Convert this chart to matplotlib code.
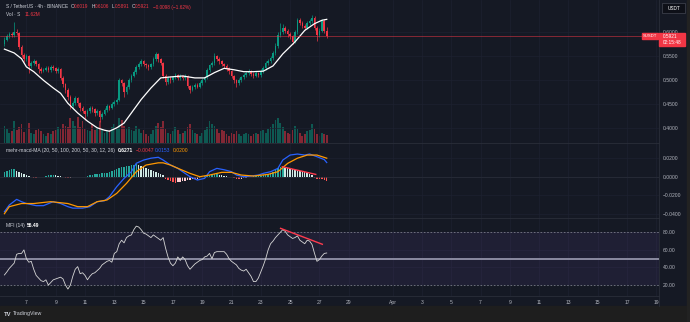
import numpy as np
import matplotlib.pyplot as plt
from matplotlib.patches import Rectangle

plt.rcParams['font.family'] = ['Liberation Sans', 'DejaVu Sans']

# 4h candles, S/USDT, starting Mar 5 12:00
first_open = 0.575
close = [0.585, 0.592, 0.596, 0.594, 0.600, 0.598, 0.570, 0.552, 0.545, 0.550,
         0.530, 0.536, 0.540, 0.535, 0.524, 0.520, 0.522, 0.526, 0.521, 0.528,
         0.525, 0.519, 0.523, 0.505, 0.492, 0.480, 0.466, 0.446, 0.452, 0.463,
         0.452, 0.442, 0.436, 0.429, 0.436, 0.443, 0.440, 0.431, 0.437, 0.424,
         0.430, 0.439, 0.446, 0.443, 0.451, 0.455, 0.460, 0.500, 0.494, 0.476,
         0.486, 0.500, 0.510, 0.518, 0.528, 0.534, 0.540, 0.534, 0.531, 0.527,
         0.533, 0.545, 0.555, 0.544, 0.536, 0.510, 0.496, 0.505, 0.500, 0.506,
         0.511, 0.505, 0.509, 0.504, 0.510, 0.488, 0.480, 0.486, 0.491, 0.487,
         0.495, 0.500, 0.506, 0.522, 0.531, 0.536, 0.550, 0.545, 0.540, 0.534,
         0.530, 0.525, 0.519, 0.509, 0.500, 0.494, 0.500, 0.506, 0.511, 0.516,
         0.519, 0.514, 0.510, 0.515, 0.511, 0.520, 0.526, 0.536, 0.541, 0.546,
         0.556, 0.572, 0.594, 0.600, 0.610, 0.603, 0.596, 0.592, 0.580, 0.600,
         0.625, 0.620, 0.614, 0.610, 0.619, 0.624, 0.630, 0.610, 0.595, 0.603,
         0.624, 0.6019, 0.5921]
high = [0.590, 0.596, 0.600, 0.601, 0.622, 0.606, 0.601, 0.574, 0.556, 0.555,
        0.553, 0.540, 0.545, 0.543, 0.537, 0.528, 0.526, 0.530, 0.529, 0.532,
        0.531, 0.528, 0.527, 0.525, 0.508, 0.495, 0.483, 0.469, 0.456, 0.468,
        0.466, 0.455, 0.446, 0.439, 0.440, 0.447, 0.446, 0.443, 0.441, 0.439,
        0.434, 0.443, 0.450, 0.449, 0.455, 0.459, 0.464, 0.505, 0.503, 0.497,
        0.490, 0.504, 0.514, 0.522, 0.532, 0.538, 0.545, 0.543, 0.537, 0.534,
        0.537, 0.549, 0.560, 0.557, 0.547, 0.538, 0.513, 0.509, 0.508, 0.510,
        0.515, 0.514, 0.513, 0.512, 0.514, 0.512, 0.491, 0.490, 0.495, 0.494,
        0.499, 0.504, 0.510, 0.526, 0.535, 0.540, 0.556, 0.553, 0.548, 0.543,
        0.537, 0.533, 0.528, 0.522, 0.512, 0.503, 0.504, 0.510, 0.515, 0.520,
        0.523, 0.522, 0.517, 0.519, 0.518, 0.524, 0.530, 0.540, 0.545, 0.551,
        0.561, 0.578, 0.600, 0.620, 0.618, 0.614, 0.607, 0.600, 0.595, 0.605,
        0.630, 0.629, 0.624, 0.618, 0.623, 0.628, 0.636, 0.633, 0.613, 0.608,
        0.628, 0.627, 0.6106]
low = [0.572, 0.582, 0.589, 0.590, 0.591, 0.594, 0.566, 0.548, 0.538, 0.541,
       0.515, 0.526, 0.532, 0.530, 0.515, 0.516, 0.517, 0.519, 0.517, 0.518,
       0.521, 0.515, 0.515, 0.500, 0.487, 0.474, 0.460, 0.440, 0.441, 0.449,
       0.447, 0.437, 0.431, 0.418, 0.425, 0.432, 0.435, 0.426, 0.427, 0.413,
       0.420, 0.427, 0.435, 0.438, 0.440, 0.447, 0.451, 0.457, 0.488, 0.466,
       0.472, 0.482, 0.496, 0.506, 0.514, 0.524, 0.530, 0.529, 0.526, 0.522,
       0.523, 0.530, 0.541, 0.539, 0.531, 0.505, 0.490, 0.492, 0.495, 0.497,
       0.502, 0.501, 0.501, 0.500, 0.500, 0.484, 0.474, 0.477, 0.482, 0.483,
       0.484, 0.491, 0.497, 0.503, 0.518, 0.527, 0.532, 0.540, 0.535, 0.529,
       0.525, 0.520, 0.514, 0.504, 0.494, 0.487, 0.490, 0.497, 0.502, 0.507,
       0.512, 0.510, 0.505, 0.506, 0.506, 0.507, 0.516, 0.522, 0.532, 0.537,
       0.542, 0.552, 0.568, 0.590, 0.596, 0.598, 0.591, 0.587, 0.575, 0.577,
       0.596, 0.615, 0.609, 0.605, 0.606, 0.615, 0.620, 0.605, 0.582, 0.591,
       0.600, 0.598, 0.5891]
volume = [24, 20, 14, 17, 30, 18, 22, 26, 15, 20,
          28, 14, 12, 18, 20, 16, 12, 10, 14, 12,
          16, 18, 22, 20, 26, 24, 22, 34, 30, 24,
          36, 22, 30, 20, 18, 16, 26, 18, 22, 30,
          20, 14, 16, 18, 22, 26, 20, 34, 32, 24,
          20, 22, 18, 16, 24, 20, 14, 18, 12, 10,
          12, 18, 24, 28, 22, 30, 20, 14, 12, 16,
          22, 18, 12, 14, 16, 22, 26, 18, 14, 12,
          10, 14, 18, 22, 30, 26, 24, 20, 14, 18,
          16, 12, 10, 14, 12, 16, 12, 10, 12, 14,
          12, 10, 12, 14, 12, 16, 18, 14, 20, 22,
          26, 32, 34, 28, 22, 16, 14, 12, 18, 24,
          20, 14, 10, 12, 16, 18, 26, 20, 12, 10,
          14, 12, 11.62]

# white moving average (bar index, value)
ma_bar = [0, 4, 7, 9, 12, 16, 20, 23, 26, 30, 34, 38, 41, 43, 46, 49, 52, 56, 60, 64,
          68, 73, 78, 82, 86, 90, 94, 98, 102, 106, 110, 114, 119, 123, 127, 130, 132]
ma_val = [0.565, 0.557, 0.545, 0.528, 0.518, 0.500, 0.484, 0.473, 0.452, 0.432,
          0.415, 0.401, 0.396, 0.394, 0.401, 0.411, 0.432, 0.460, 0.484, 0.505,
          0.507, 0.509, 0.505, 0.505, 0.516, 0.525, 0.522, 0.518, 0.518, 0.519,
          0.530, 0.555, 0.580, 0.604, 0.618, 0.625, 0.627]

# MACD panel
macd_bar = [0, 2, 5, 7, 9, 13, 16, 20, 23, 26, 28, 32, 35, 38, 41, 43, 46, 49, 52, 54,
            57, 60, 63, 65, 68, 71, 73, 76, 79, 82, 84, 87, 90, 93, 95, 98, 101, 104,
            106, 109, 112, 114, 117, 120, 123, 125, 128, 131, 132]
macd_val = [-0.0378, -0.0306, -0.0245, -0.0270, -0.0290, -0.0313, -0.0313, -0.0270,
            -0.0290, -0.0324, -0.0340, -0.0340, -0.0324, -0.0270, -0.0260, -0.0216,
            -0.0108, -0.0018, 0.0054, 0.0145, 0.0180, 0.0200, 0.0210, 0.0180, 0.0126,
            0.0090, 0.0054, 0.0000, -0.0036, -0.0018, 0.0054, 0.0090, 0.0075, 0.0054,
            0.0018, 0.0000, 0.0007, 0.0018, 0.0036, 0.0054, 0.0090, 0.0180, 0.0234,
            0.0245, 0.0234, 0.0245, 0.0216, 0.0185, 0.0153]
signal_bar = [0, 2, 7, 12, 19, 26, 30, 34, 38, 42, 46, 50, 54, 58, 63, 65, 68, 72, 76,
              80, 84, 89, 93, 97, 102, 108, 112, 116, 120, 124, 128, 132]
signal_val = [-0.0400, -0.0324, -0.0290, -0.0290, -0.0270, -0.0290, -0.0324, -0.0324,
              -0.0270, -0.0252, -0.0180, -0.0072, 0.0054, 0.0126, 0.0150, 0.0150,
              0.0126, 0.0080, 0.0036, 0.0000, 0.0018, 0.0047, 0.0047, 0.0018, 0.0007,
              0.0025, 0.0054, 0.0144, 0.0200, 0.0234, 0.0234, 0.0200]
hist = [0.0050, 0.0065, 0.0075, 0.0080, 0.0080, 0.0065, 0.0050, 0.0040, 0.0030, 0.0015,
        0.0005, -0.0005, -0.0010, -0.0010, -0.0008, -0.0005, 0.0002, 0.0008, 0.0015, 0.0020,
        0.0022, 0.0018, 0.0010, 0.0003, -0.0008, -0.0012, -0.0015, -0.0010, -0.0008, -0.0005,
        -0.0006, -0.0004, -0.0002, 0.0002, 0.0005, 0.0015, 0.0020, 0.0025, 0.0030, 0.0030,
        0.0035, 0.0040, 0.0045, 0.0050, 0.0060, 0.0070, 0.0080, 0.0090, 0.0100, 0.0110,
        0.0115, 0.0120, 0.0125, 0.0130, 0.0132, 0.0125, 0.0120, 0.0110, 0.0095, 0.0080,
        0.0070, 0.0060, 0.0050, 0.0040, 0.0030, 0.0015, -0.0020, -0.0040, -0.0050, -0.0060,
        -0.0065, -0.0060, -0.0055, -0.0050, -0.0045, -0.0040, -0.0035, -0.0030, -0.0030, -0.0020,
        -0.0010, 0.0000, 0.0005, 0.0010, 0.0015, 0.0020, 0.0025, 0.0026, 0.0020, 0.0015,
        0.0010, 0.0005, 0.0000, -0.0008, -0.0015, -0.0020, -0.0022, -0.0020, -0.0015, -0.0010,
        -0.0005, 0.0000, 0.0003, 0.0005, 0.0008, 0.0010, 0.0015, 0.0020, 0.0030, 0.0040,
        0.0050, 0.0070, 0.0090, 0.0105, 0.0108, 0.0095, 0.0090, 0.0085, 0.0080, 0.0075,
        0.0070, 0.0065, 0.0060, 0.0050, 0.0040, 0.0030, 0.0020, -0.0010, -0.0020, -0.0025,
        -0.0030, -0.0040, -0.0047]
macd_trend_bar = [113.8, 127.5]
macd_trend_val = [0.0108, 0.0025]

# MFI (14)
mfi = [31.5, 35, 39, 42, 45, 55, 56, 56, 60, 50, 46, 47, 38, 31, 28, 25, 24, 26, 20, 23,
       26, 27, 28, 29, 27, 20, 15.5, 20, 30, 38, 41, 33, 34, 31, 26, 30, 33, 34, 36.5, 39,
       43, 45, 47, 48, 46, 56, 58, 67, 71, 68, 74, 76, 77, 83, 87, 86, 83, 79, 78, 76,
       74, 77, 75, 73, 71, 74, 62, 52, 45, 42, 45, 52, 48, 52, 49, 42, 38, 41, 44, 46,
       48, 49, 52, 53, 56, 50, 57, 58, 58, 58, 58, 55, 50, 47, 45, 43, 39, 37, 36, 38,
       34, 30, 24, 24, 28, 35, 42, 50, 60, 67, 70, 74, 77, 80, 83, 81, 77, 75, 73, 74,
       76, 71, 69, 67, 71, 70, 66, 56, 47, 49, 53, 56, 56.49]
mfi_trend_bar = [113.1, 130.2]
mfi_trend_val = [84.5, 66.4]

day_ticks = [7, 9, 11, 13, 15, 17, 19, 21, 23, 25, 27, 29, 32, 34, 36, 38, 40, 42, 44, 46, 48, 50]
day_labels = ['7', '9', '11', '13', '15', '17', '19', '21', '23', '25', '27', '29', 'Apr',
              '3', '5', '7', '9', '11', '13', '15', '17', '19']

W, H = 690, 322
BG = '#151924'
GRID = '#1d2130'
TXT = '#b2b5be'
UP, DOWN = '#089981', '#f23645'
LEG = 3.4

n = len(close)
days = 5.5 + np.arange(n) / 6.0
opens = np.array([first_open] + close[:-1])
close = np.array(close)
up = close >= opens
bar_day = lambda b: 5.5 + np.asarray(b, dtype=float) / 6.0

fig = plt.figure(figsize=(W / 100, H / 100), dpi=100, facecolor=BG)


def rect(top, bottom, left=0, right=659):
    return [left / W, (H - bottom) / H, (right - left) / W, (bottom - top) / H]


def label(x, y, s, color='#d1d4dc', size=LEG, weight='normal', ha='left', z=3):
    fig.text(x / W, 1 - y / H, s, color=color, fontsize=size, fontweight=weight,
             ha=ha, va='center', zorder=z)


def style(ax, ylim, yticks, ylabels):
    ax.set_facecolor(BG)
    ax.set_xlim(5.198, 50.18)
    ax.set_ylim(*ylim)
    for s in ax.spines.values():
        s.set_visible(False)
    ax.set_xticks(day_ticks)
    ax.set_xticklabels([])
    ax.yaxis.tick_right()
    ax.set_yticks(yticks)
    ax.set_yticklabels(ylabels)
    ax.tick_params(length=0, labelsize=3.6, labelcolor=TXT, pad=3)
    ax.grid(True, color=GRID, linewidth=0.5)
    ax.set_axisbelow(True)


# price pane: volume underneath, candles on top
ax_vol = fig.add_axes(rect(0, 143))
ax_vol.set_facecolor(BG)
ax_vol.set_xlim(5.198, 50.18)
ax_vol.set_ylim(0, 198)
ax_vol.axis('off')
ax_vol.bar(days, volume, width=0.12, color=np.where(up, UP, DOWN), alpha=0.5)

ax = fig.add_axes(rect(0, 143))
style(ax, (0.3694, 0.6673), [0.40, 0.45, 0.50, 0.55, 0.60],
      ['0.4000', '0.4500', '0.5000', '0.5500', '0.6000'])
ax.set_facecolor('none')
cols = np.where(up, UP, DOWN)
ax.vlines(days, low, high, colors=cols, linewidth=0.5)
body_lo = np.minimum(opens, close)
body_h = np.maximum(np.abs(close - opens), 0.0008)
ax.bar(days, body_h, bottom=body_lo, width=0.11, color=cols, linewidth=0)
ax.plot(bar_day(ma_bar), ma_val, color='white', linewidth=0.9)
ax.axhline(close[-1], color=DOWN, linewidth=0.5, alpha=0.7)

# MACD pane
ax2 = fig.add_axes(rect(143, 218))
style(ax2, (-0.04465, 0.03643), [-0.04, -0.02, 0.0, 0.02],
      ['\u22120.0400', '\u22120.0200', '0.0000', '0.0200'])
hcols = []
for i, h in enumerate(hist):
    prev = hist[i - 1] if i > 0 else h
    if h >= 0:
        hcols.append('#26a69a' if h >= prev else '#cfe9e5')
    else:
        hcols.append('#ffcdd2' if h > prev else '#ff5252')
ax2.axhline(0, color='#2a2e39', linewidth=0.5)
ax2.bar(days, hist, width=0.1, color=hcols, linewidth=0)
ax2.plot(bar_day(macd_bar), macd_val, color='#2962ff', linewidth=0.9)
ax2.plot(bar_day(signal_bar), signal_val, color='#ff9800', linewidth=0.9)
ax2.plot(bar_day(macd_trend_bar), macd_trend_val, color='#ff3b4e', linewidth=1.0)

# MFI pane
ax3 = fig.add_axes(rect(218, 296))
style(ax3, (7.61, 96.25), [20, 40, 60, 80], ['20.00', '40.00', '60.00', '80.00'])
ax3.axhspan(20, 80, color='#7e57c2', alpha=0.1, linewidth=0)
ax3.axhline(80, color='#787b86', linewidth=0.6, linestyle=(0, (2, 2)))
ax3.axhline(20, color='#787b86', linewidth=0.6, linestyle=(0, (2, 2)))
ax3.axhline(50, color='#8a8aa0', linewidth=1.4)
ax3.plot(days, mfi, color='#d6d6d6', linewidth=0.6)
ax3.plot(bar_day(mfi_trend_bar), mfi_trend_val, color='#ff3b4e', linewidth=1.0)
ax3.set_xticklabels(day_labels)
ax3.tick_params(axis='x', pad=3)

# pane borders
for y in (143, 218, 296):
    fig.add_artist(plt.Line2D([0, 659 / W], [1 - y / H] * 2, color='#2a2e39', linewidth=0.6))
fig.add_artist(plt.Line2D([659 / W] * 2, [1 - 306 / H, 1], color='#2a2e39', linewidth=0.6))

# footer strip and right edge
fig.add_artist(Rectangle((0, 0), 1, 16 / H, transform=fig.transFigure, color='#1e1e1e', zorder=0))
fig.add_artist(Rectangle((687 / W, 0), 3 / W, 1, transform=fig.transFigure, color='#222222'))

# legends
label(6, 7, 'S / TetherUS \u00b7 4h \u00b7 BINANCE')
for letter, val, x in [('O', '0.6019', 71), ('H', '0.6106', 92), ('L', '0.5891', 112),
                       ('C', '0.5921', 132)]:
    label(x, 7, letter)
    label(x + 3.0, 7, val, color=DOWN)
label(153, 7, '\u22120.0098 (\u22121.62%)', color=DOWN)
label(6, 14, 'Vol \u00b7 S')
label(25, 14, '11.62M', color=DOWN)

label(6, 150.5, 'mehr-macd-MA (20, 50, 100, 200, 50, 30, 12, 26)', size=3.6)
label(118, 150.5, '0.6271', color='white', weight='bold', size=3.6)
label(136, 150.5, '\u22120.0047', color=DOWN, size=3.6)
label(155, 150.5, '0.0153', color='#2962ff', size=3.6)
label(173, 150.5, '0.0200', color='#ff9800', size=3.6)

label(6, 225.5, 'MFI (14)', size=3.6)
label(27, 225.5, '56.49', color='white', weight='bold', size=3.6)

# right-hand boxes
fig.add_artist(Rectangle((662 / W, 1 - 13.3 / H), 23 / W, 10.6 / H, transform=fig.transFigure,
                         facecolor='#0e1018', edgecolor='#434651', linewidth=0.5))
label(673.5, 8, 'USDT', color='white', size=3.4, ha='center')
fig.add_artist(Rectangle((641.7 / W, 1 - 39 / H), 16.6 / W, 5.8 / H, transform=fig.transFigure,
                         color=DOWN, zorder=2))
label(650, 36.1, 'SUSDT', color='white', size=3.0, ha='center')
fig.add_artist(Rectangle((659.3 / W, 1 - 46 / H), 25.7 / W, 13.3 / H, transform=fig.transFigure,
                         color=DOWN, zorder=2))
label(663, 36.1, '0.5921', color='white', size=3.4)
label(663, 42.3, '02:15:48', color='white', size=3.4)

label(4, 314, 'TV', color='#d1d4dc', size=4.2, weight='bold')
label(13, 314, 'TradingView', color='#d1d4dc', size=3.8)

fig.savefig('out.png', dpi=100, facecolor=BG)
